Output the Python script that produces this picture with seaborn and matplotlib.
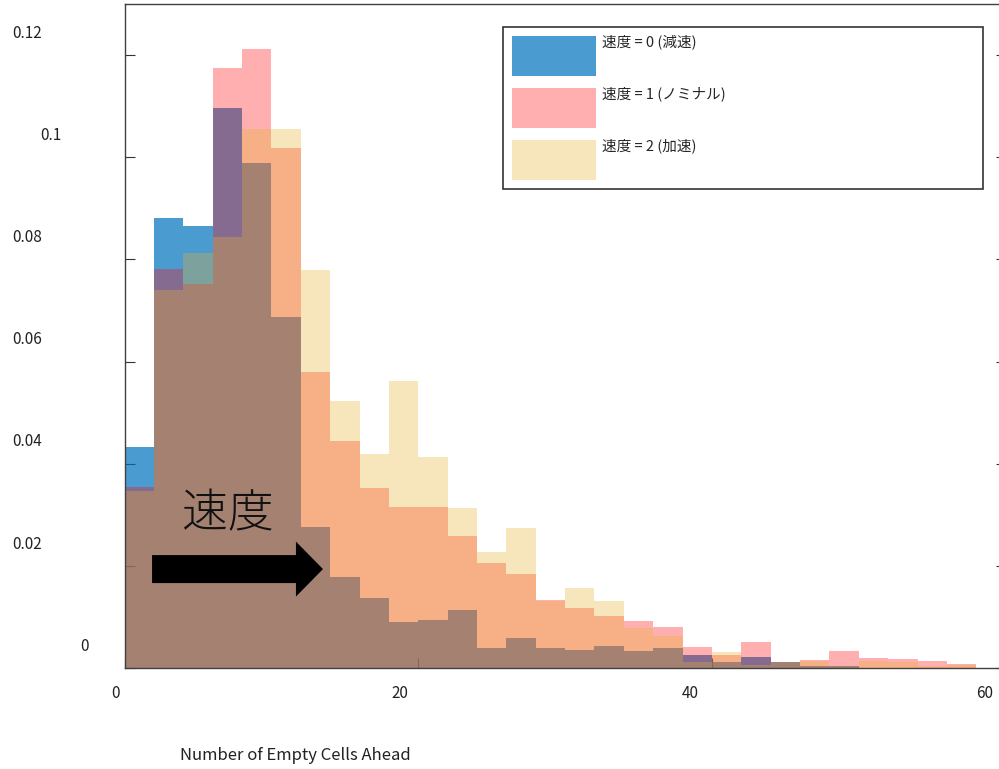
import numpy as np
import pandas as pd
import matplotlib
matplotlib.use("Agg")
import matplotlib.pyplot as plt
import matplotlib.transforms as mtransforms
import seaborn as sns
from matplotlib.patches import Patch, FancyArrow

# Histogram bins (width 2 cells) and per-bin fractions for each speed state
bin_edges = list(range(0, 62, 2))
speed0 = [0.0433, 0.0881, 0.0865, 0.1096, 0.0988, 0.0687, 0.0277, 0.0178, 0.0137, 0.0090,
          0.0094, 0.0114, 0.0040, 0.0059, 0.0040, 0.0036, 0.0044, 0.0034, 0.0040, 0.0025,
          0.0012, 0.0022, 0.0012, 0.0005, 0.0005, 0.0, 0.0, 0.0, 0.0, 0.0]
speed1 = [0.0355, 0.0781, 0.0752, 0.1174, 0.1211, 0.1019, 0.0580, 0.0445, 0.0353, 0.0316,
          0.0315, 0.0259, 0.0206, 0.0184, 0.0133, 0.0118, 0.0102, 0.0092, 0.0080, 0.0041,
          0.0026, 0.0051, 0.0012, 0.0016, 0.0034, 0.0020, 0.0018, 0.0015, 0.0008, 0.0]
speed2 = [0.0347, 0.0740, 0.0812, 0.0844, 0.1055, 0.1055, 0.0779, 0.0523, 0.0419, 0.0563,
          0.0413, 0.0313, 0.0228, 0.0274, 0.0131, 0.0157, 0.0131, 0.0078, 0.0064, 0.0013,
          0.0031, 0.0006, 0.0012, 0.0014, 0.0005, 0.0014, 0.0013, 0.0005, 0.0007, 0.0]

series_labels = ["速度 = 0 (減速)", "速度 = 1 (ノミナル)", "速度 = 2 (加速)"]
series_colors = ["#0072BD", "#FF0808", "#E7B034"]
series_alpha = [0.71, 0.32, 0.33]

ytick_vals = [0, 0.02, 0.04, 0.06, 0.08, 0.10, 0.12]
ytick_labels = ["0", "0.02", "0.04", "0.06", "0.08", "0.1", "0.12"]
xtick_vals = [0, 20, 40, 60]
xtick_labels = ["0", "20", "40", "60"]

sns.set_style("white")
plt.rcParams["font.family"] = ["Noto Sans CJK JP", "DejaVu Sans"]

W, H = 999, 769
fig = plt.figure(figsize=(W / 100, H / 100), dpi=100)
ax = fig.add_axes([124.6 / W, (H - 668.2) / H, 881 / W, 664.2 / H])

centers = [(lo + hi) / 2 for lo, hi in zip(bin_edges[:-1], bin_edges[1:])]
for vals, col, a in zip([speed0, speed1, speed2], series_colors, series_alpha):
    df = pd.DataFrame({"cells": centers, "frac": vals})
    sns.histplot(data=df, x="cells", weights="frac", bins=bin_edges, color=col, alpha=a,
                 edgecolor="none", linewidth=0, ax=ax)

ax.set_xlim(0, 60)
ax.set_ylim(0, 0.13)
ax.set_ylabel("")

# spines
for side in ["left", "top", "bottom"]:
    ax.spines[side].set_color("#404040")
    ax.spines[side].set_linewidth(1.0)
ax.spines["right"].set_visible(False)

# y ticks on both sides, pointing inward; labels placed off to the left
ax.set_yticks(ytick_vals, ytick_labels)
ax.tick_params(axis="y", direction="in", length=7.2, width=0.8, pad=0,
               left=True, right=True, color="#333333", labelsize=11, labelcolor="#222222")
left_edge = {"0.12": 12.7, "0.1": 40.0, "0": 80.0}
for lab in ax.get_yticklabels():
    lab.set_ha("left")
    lab.set_va("center")
    lx = left_edge.get(lab.get_text(), 12.7)
    off = mtransforms.ScaledTranslation((lx - 124.6) / 100, 22 / 100, fig.dpi_scale_trans)
    lab.set_transform(lab.get_transform() + off)

# x ticks at the bottom, pointing inward
ax.set_xticks(xtick_vals, xtick_labels)
ax.tick_params(axis="x", direction="in", length=7.2, width=0.8, pad=0,
               bottom=True, top=False, color="#333333", labelsize=11, labelcolor="#222222")
x_shift = {"0": -9.6, "20": -18.3, "40": -22.0, "60": -20.7}
for lab in ax.get_xticklabels():
    lab.set_ha("center")
    lab.set_va("center")
    off = mtransforms.ScaledTranslation(x_shift.get(lab.get_text(), -18) / 100, -25 / 100,
                                        fig.dpi_scale_trans)
    lab.set_transform(lab.get_transform() + off)

ax.set_xlabel("Number of Empty Cells Ahead", fontsize=12, color="#222222")
ax.xaxis.set_label_coords(0.1934, -0.1307)
ax.xaxis.label.set_va("center")

# annotation: speed direction
ax.text(7.01, 0.0300, "速度", fontsize=33, fontweight="light", ha="center", va="center",
        color="#111111")
ax.add_patch(FancyArrow(1.87, 0.0194, 13.51 - 1.87, 0, width=0.00548, head_width=0.01076,
                        head_length=1.84, length_includes_head=True, color="black", lw=0,
                        zorder=5))

# legend with tall colour swatches
handles = [Patch(facecolor=c, alpha=a, edgecolor="none", label=l)
           for c, a, l in zip(series_colors, series_alpha, series_labels)]
leg = ax.legend(handles=handles, loc="upper left",
                bbox_to_anchor=(503 / W, 1 - 190 / H, 480 / W, 163 / H),
                bbox_transform=fig.transFigure, mode="expand", borderaxespad=0,
                prop={"size": 10.5}, handlelength=5.76, handleheight=3.74,
                handletextpad=0.41, labelspacing=0.89, borderpad=0.65,
                frameon=True, fancybox=False, framealpha=1, edgecolor="#333333")
leg.get_frame().set_linewidth(1.2)
for t in leg.get_texts():
    t.set_transform(t.get_transform() +
                    mtransforms.ScaledTranslation(0, 14 / 100, fig.dpi_scale_trans))

fig.savefig("out.png", dpi=100)
